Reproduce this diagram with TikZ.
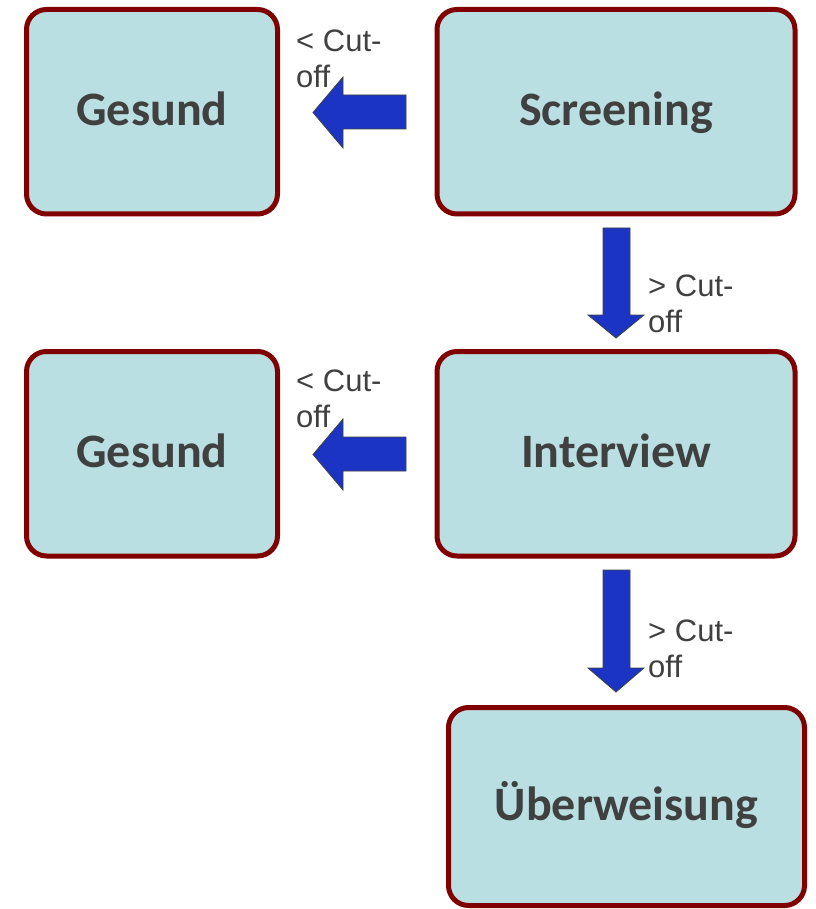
\documentclass[tikz,border=0pt]{standalone}
\usepackage{fontspec}
\newfontfamily\boxfont{Carlito}
\newfontfamily\labfont{Liberation Sans}
\definecolor{boxfill}{HTML}{BADFE2}
\definecolor{boxline}{HTML}{800000}
\definecolor{txt}{HTML}{404040}
\definecolor{arrblue}{HTML}{1B34C4}
\begin{document}
\begin{tikzpicture}[x=1pt,y=-1pt,
  box/.style={draw=boxline, line width=5pt, fill=boxfill, rounded corners=20pt,
    minimum height=204.5pt, text=txt, font=\boxfont\bfseries\fontsize{48}{52}\selectfont,
    text height=27pt, text depth=0pt, inner sep=0pt},
  lab/.style={font=\labfont\fontsize{31}{36}\selectfont, text=txt, align=left,
    anchor=north west, inner sep=0pt},
  blk/.style={fill=arrblue, draw=black!75, line width=0.8pt, line join=miter}]
\useasboundingbox (0,0) rectangle (815,909);
% boxes
\node[box, minimum width=251pt] (g1) at (152,111.75) {Gesund};
\node[box, minimum width=358pt] (scr) at (616,111.75) {Screening};
\node[box, minimum width=251pt] (g2) at (152,453.75) {Gesund};
\node[box, minimum width=358pt] (int) at (616,453.75) {Interview};
\node[box, minimum width=356pt, minimum height=198pt] (ueb) at (626.5,806.5) {Überweisung};
% block arrows
\draw[blk] (406,95) -- (343,95) -- (343,77) -- (313,112.5) -- (343,148) -- (343,129) -- (406,129) -- cycle;
\draw[blk] (406,437) -- (343,437) -- (343,419) -- (313,454.5) -- (343,490) -- (343,471) -- (406,471) -- cycle;
\draw[blk] (603,228) -- (630,228) -- (630,315) -- (644,315) -- (616,338) -- (588,315) -- (603,315) -- cycle;
\draw[blk] (603,570) -- (630,570) -- (630,668) -- (644,668) -- (616,692) -- (588,668) -- (603,668) -- cycle;
% labels
\node[lab] (l1) at (296,29.5) {< Cut-\\off};
\node[lab] (l2) at (296,369.5) {< Cut-\\off};
\node[lab] (l3) at (648,274.5) {> Cut-\\off};
\node[lab] (l4) at (648,619.5) {> Cut-\\off};
\end{tikzpicture}
\end{document}
